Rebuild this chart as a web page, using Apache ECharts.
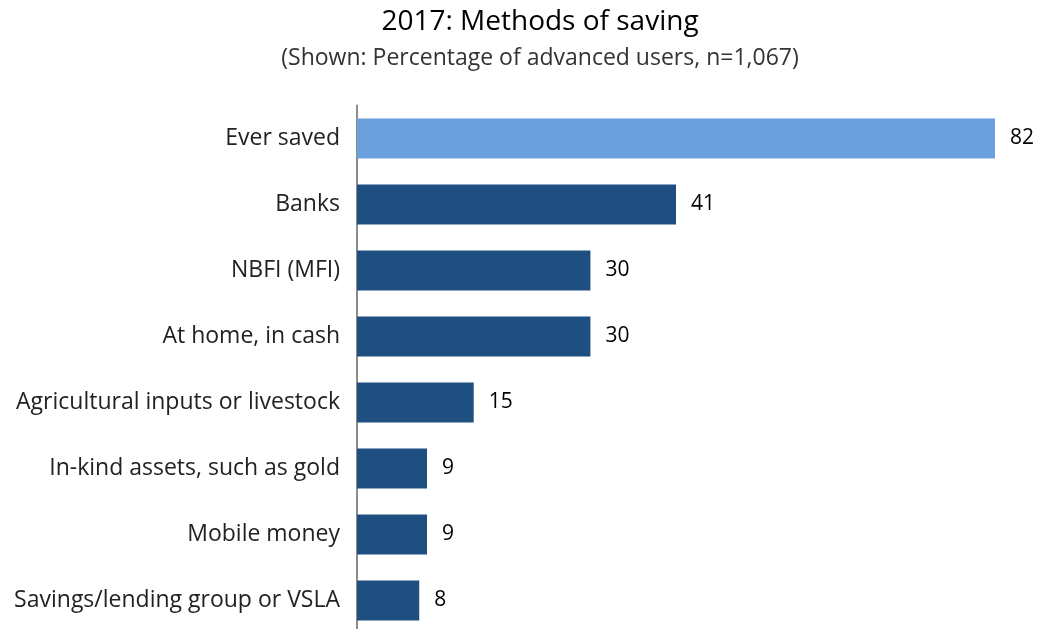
<!DOCTYPE html>
<html>
<head>
<meta charset="utf-8">
<script src="https://cdn.jsdelivr.net/npm/echarts@6/dist/echarts.min.js"></script>
<style>
  html, body { margin: 0; padding: 0; background: #fff; }
  #chart { width: 1040px; height: 629px; }
</style>
</head>
<body>
<div id="chart"></div>
<script>
var categories = ['Ever saved', 'Banks', 'NBFI (MFI)', 'At home, in cash',
    'Agricultural inputs or livestock', 'In-kind assets, such as gold',
    'Mobile money', 'Savings/lending group or VSLA'];
var values = [82, 41, 30, 30, 15, 9, 9, 8];

var chart = echarts.init(document.getElementById('chart'));
var fontFam = '"Open Sans", "Noto Sans", sans-serif';

var option = {
    animation: false,
    title: [{
        text: '2017: Methods of saving',
        left: 535,
        textAlign: 'center',
        top: 3,
        textStyle: { fontFamily: fontFam, fontSize: 28, fontWeight: 'normal', color: '#000' }
    }, {
        text: '(Shown: Percentage of advanced users, n=1,067)',
        left: 535,
        textAlign: 'center',
        top: 42,
        textStyle: { fontFamily: fontFam, fontSize: 23, fontWeight: 'normal', color: '#333' }
    }],
    grid: {
        left: 357,
        top: 105.5,
        width: 638,
        height: 528,
        outerBoundsMode: 'none'
    },
    xAxis: {
        type: 'value',
        min: 0,
        max: 82,
        show: false
    },
    yAxis: {
        type: 'category',
        inverse: true,
        data: categories,
        axisLine: { show: true, lineStyle: { color: '#8c8c8c', width: 2 } },
        axisTick: { show: false },
        axisLabel: { fontFamily: fontFam, fontSize: 23, color: '#222', margin: 17 }
    },
    series: [{
        type: 'bar',
        barWidth: 40,
        data: values.map(function (v, i) {
            return { value: v, itemStyle: { color: i === 0 ? '#6CA0DC' : '#1F4E80' } };
        }),
        label: {
            show: true,
            position: 'right',
            distance: 15,
            fontFamily: fontFam,
            fontSize: 21,
            color: '#000'
        }
    }]
};
chart.setOption(option);
</script>
</body>
</html>
